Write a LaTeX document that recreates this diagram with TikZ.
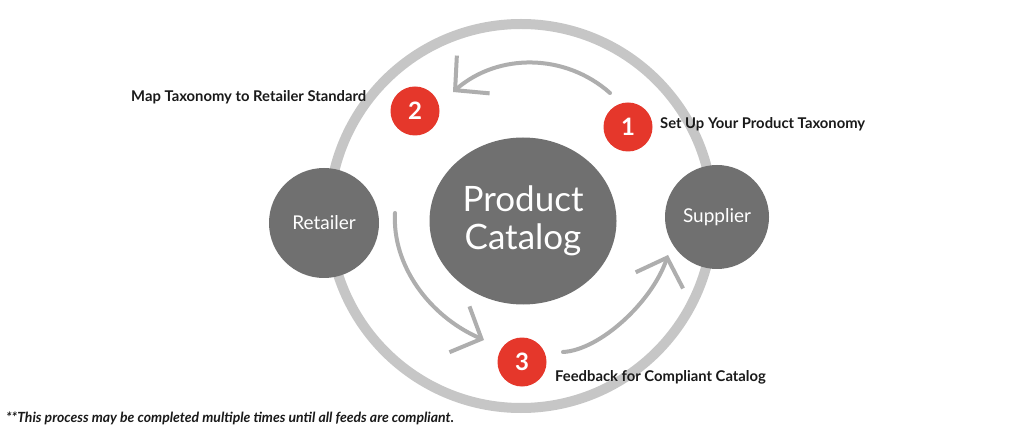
\documentclass[tikz,border=0pt]{standalone}
\usepackage{fontspec}
\setmainfont{Lato}
\usetikzlibrary{arrows.meta,shapes.geometric}
\definecolor{nodegray}{HTML}{707070}
\definecolor{ringgray}{HTML}{C6C6C6}
\definecolor{arrowgray}{HTML}{AEAEAE}
\definecolor{stepred}{HTML}{E5372B}
\definecolor{labelblack}{HTML}{1A1A1A}
\begin{document}
\begin{tikzpicture}[x=1pt,y=-1pt,
  hub/.style={circle,fill=nodegray,text=white,inner sep=0pt},
  badge/.style={circle,fill=stepred,text=white,minimum size=49pt,inner sep=0pt,font=\bfseries\fontsize{24}{24}\selectfont},
  lbl/.style={anchor=base west,inner sep=0pt,text=labelblack,font=\bfseries\fontsize{14.8}{17}\selectfont},
  flow/.style={draw=arrowgray,line width=4pt,line cap=round,-{Straight Barb[length=24pt,width=50pt]}}]
\useasboundingbox (0,0) rectangle (1024,435);
\fill[white] (0,0) rectangle (1024,435);
\draw[ringgray,line width=10pt] (521,216) circle [radius=192];
\node[hub,ellipse,minimum width=187pt,minimum height=167pt,align=center,font=\fontsize{35}{38}\selectfont] (cat) at (523,221) {Product\\Catalog};
\node[hub,minimum size=110pt,font=\fontsize{19}{21}\selectfont] (ret) at (324,223) {Retailer};
\node[hub,minimum size=104pt,font=\fontsize{19}{21}\selectfont] (sup) at (717,217) {Supplier};
\node[badge] (b1) at (628,127) {1};
\node[badge] (b2) at (415,111) {2};
\node[badge] (b3) at (522,362) {3};
\node[lbl] (l1) at (660,129) {Set Up Your Product Taxonomy};
\node[lbl] (l2) at (131,102) {Map Taxonomy to Retailer Standard};
\node[lbl] (l3) at (555,381) {Feedback for Compliant Catalog};
\node[lbl,font=\bfseries\itshape\fontsize{14}{16}\selectfont] (note) at (6,422) {**This process may be completed multiple times until all feeds are compliant.};
\coordinate (a1s) at (610,93);
\coordinate (a1e) at (453,92);
\coordinate (a2s) at (395,213);
\coordinate (a2e) at (484,340);
\coordinate (a3s) at (563,352);
\coordinate (a3e) at (668,255);
\draw[flow] (a1s) .. controls (565,53) and (498,53) .. (a1e);
\draw[flow] (a2s) .. controls (392,265) and (429,316) .. (a2e);
\draw[flow] (a3s) .. controls (600,350) and (652,302) .. (a3e);
\end{tikzpicture}
\end{document}
